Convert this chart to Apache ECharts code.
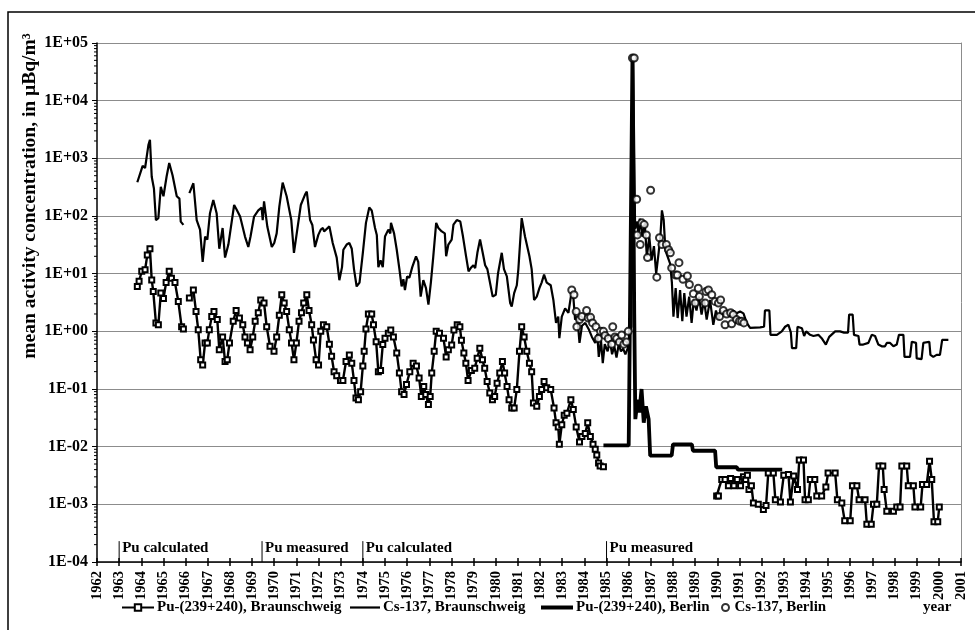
<!DOCTYPE html>
<html>
<head>
<meta charset="utf-8">
<script src="https://cdn.jsdelivr.net/npm/echarts@6/dist/echarts.min.js"></script>
<style>html,body{margin:0;padding:0;background:#fff}#c{width:975px;height:630px}</style>
</head>
<body>
<div id="c"></div>
<script>
// ---- data: [decimal year, µBq/m³] ----
const csBraunschweig = [
[1963.82,385],[1964.06,740],[1964.17,680],[1964.32,1700],[1964.39,2100],[1964.47,480],[1964.57,300],[1964.66,85],[1964.77,92],[1964.88,320],
[1965.0,220],[1965.14,480],[1965.26,830],[1965.41,510],[1965.6,220],[1965.72,200],[1965.78,80],[1965.9,70],[1966.05,'-'],
[1966.17,250],[1966.35,370],[1966.5,85],[1966.65,58],[1966.77,16],[1966.88,44],[1966.98,39],[1967.1,112],[1967.25,190],[1967.4,112],
[1967.52,27],[1967.67,62],[1967.78,19],[1967.93,32],[1968.19,155],[1968.3,130],[1968.46,98],[1968.68,44],[1968.83,29],[1968.93,44],
[1969.09,98],[1969.28,125],[1969.43,140],[1969.48,85],[1969.54,180],[1969.69,65],[1969.89,29],[1970.0,34],[1970.11,50],[1970.23,145],
[1970.38,380],[1970.56,220],[1970.77,85],[1970.89,23],[1971.04,58],[1971.2,155],[1971.39,235],[1971.47,265],[1971.62,85],[1971.72,70],
[1971.84,29],[1971.99,47],[1972.1,58],[1972.2,62],[1972.25,54],[1972.49,66],[1972.64,34],[1972.82,19],[1972.94,7.7],[1973.06,13],
[1973.12,26],[1973.27,32],[1973.39,34],[1973.5,27],[1973.6,12],[1973.72,6],[1973.85,7],[1974.0,23],[1974.14,76],[1974.29,140],
[1974.4,125],[1974.55,62],[1974.63,47],[1974.7,13],[1974.8,17],[1974.9,13],[1975.0,44],[1975.15,58],[1975.24,50],[1975.27,76],
[1975.41,50],[1975.53,26],[1975.65,12],[1975.75,6],[1975.83,8],[1975.9,5.2],[1976.0,9],[1976.1,8.5],[1976.23,13],[1976.4,20],
[1976.5,16],[1976.61,4],[1976.73,7.7],[1976.85,5.6],[1976.96,2.9],[1977.07,7],[1977.18,20],[1977.31,76],[1977.41,62],[1977.56,54],
[1977.7,50],[1977.76,20],[1977.86,32],[1978.01,39],[1978.09,71],[1978.24,85],[1978.4,80],[1978.52,44],[1978.66,20],[1978.77,11],
[1978.87,12.5],[1978.99,14],[1979.07,12.5],[1979.17,23],[1979.29,39],[1979.41,23],[1979.52,14],[1979.62,12],[1979.71,8],[1979.86,4],
[1980.0,4.3],[1980.1,10],[1980.27,23],[1980.37,12],[1980.5,9],[1980.65,3.1],[1980.72,2.7],[1980.83,4.6],[1980.95,6.3],[1981.02,12],
[1981.17,92],[1981.32,44],[1981.52,20],[1981.62,12],[1981.73,3.5],[1981.85,4],[1981.97,5.6],[1982.07,7],[1982.18,9.6],[1982.3,7],
[1982.48,6.3],[1982.6,3.5],[1982.72,1.4],[1982.82,1.8],[1982.87,0.76],[1982.98,1.8],[1983.13,2.5],[1983.28,2.1],[1983.39,4],[1983.5,4],
[1983.58,1.6],[1983.68,1.8],[1983.78,0.63],[1983.89,1.25],[1984.04,1.4],[1984.19,1.1],[1984.34,0.8],[1984.49,0.63],[1984.58,0.9],[1984.65,0.36],
[1984.75,0.7],[1984.83,0.28],[1984.92,0.6],[1985.05,0.45],[1985.15,0.7],[1985.25,0.4],[1985.35,0.55],[1985.45,0.35],[1985.55,0.6],[1985.65,0.45],
[1985.75,0.5],[1985.85,0.4],[1985.95,0.5],[1986.06,1.0],[1986.12,1.2],[1986.2,56000],[1986.29,60],[1986.39,80],[1986.44,44],[1986.5,90],
[1986.62,44],[1986.72,80],[1986.82,20],[1986.93,44],[1987.03,17],[1987.14,30],[1987.24,10],[1987.35,23],[1987.43,44],[1987.5,125],
[1987.58,85],[1987.66,25],[1987.73,27],[1987.87,15],[1987.95,7],[1988.02,1.8],[1988.12,5.6],[1988.21,1.7],[1988.32,5.2],[1988.42,1.5],
[1988.51,4.6],[1988.61,1.8],[1988.73,4],[1988.84,1.4],[1988.94,3.5],[1989.06,2.3],[1989.17,4],[1989.29,1.95],[1989.4,3.5],[1989.52,1.6],
[1989.67,3.5],[1989.82,1.3],[1989.94,2.3],[1990.05,1.6],[1990.15,2.3],[1990.27,1.95],[1990.42,2.3],[1990.57,1.8],[1990.72,2.3],[1990.87,2.05],
[1991.03,2.2],[1991.18,2.05],[1991.33,1.4],[1991.48,1.15],[1991.93,1.17],[1992.11,1.2],[1992.15,2.3],[1992.35,2.3],[1992.4,0.87],[1992.69,0.87],
[1992.91,1.0],[1993.06,1.2],[1993.21,1.3],[1993.32,0.95],[1993.37,0.51],[1993.56,0.51],[1993.62,1.2],[1993.82,1.13],[1993.92,0.83],[1994.01,1.0],
[1994.19,0.87],[1994.34,0.83],[1994.56,0.87],[1994.71,0.76],[1994.9,0.59],[1994.97,0.59],[1995.05,0.8],[1995.32,1.0],[1995.54,1.0],[1995.72,0.95],
[1995.9,0.95],[1995.95,1.95],[1996.11,1.95],[1996.17,0.87],[1996.37,0.83],[1996.42,0.59],[1996.59,0.59],[1996.82,0.63],[1996.97,0.87],[1997.12,0.83],
[1997.27,0.59],[1997.42,0.55],[1997.57,0.55],[1997.65,0.63],[1997.8,0.63],[1997.95,0.55],[1998.1,0.59],[1998.2,0.87],[1998.4,0.87],[1998.45,0.36],
[1998.7,0.36],[1998.78,0.66],[1998.97,0.63],[1999.0,0.34],[1999.22,0.33],[1999.3,0.63],[1999.57,0.66],[1999.62,0.39],[1999.75,0.36],[1999.9,0.39],
[2000.05,0.39],[2000.15,0.71],[2000.43,0.71]
];

const puBraunschweig = [
[1963.82,6.0],[1963.9,7.4],[1964.02,11],[1964.17,11.7],[1964.27,21],[1964.39,27],[1964.47,7.8],[1964.54,4.9],[1964.66,1.4],[1964.77,1.3],
[1964.88,4.6],[1965.0,3.7],[1965.12,7],[1965.26,11],[1965.36,8.3],[1965.52,7],[1965.67,3.3],[1965.82,1.2],[1965.9,1.1],[1966.05,'-'],
[1966.17,3.8],[1966.35,5.2],[1966.47,2.2],[1966.57,1.07],[1966.68,0.32],[1966.77,0.26],[1966.88,0.63],[1966.98,0.63],[1967.07,1.07],[1967.18,1.8],
[1967.28,2.2],[1967.43,1.6],[1967.52,0.48],[1967.67,0.8],[1967.78,0.3],[1967.88,0.32],[1967.98,0.63],[1968.15,1.5],[1968.28,2.3],[1968.43,1.7],
[1968.58,1.3],[1968.68,0.8],[1968.79,0.63],[1968.91,0.48],[1969.03,0.8],[1969.14,1.5],[1969.28,2.1],[1969.39,3.5],[1969.54,3.1],[1969.66,1.2],
[1969.81,0.55],[1969.99,0.45],[1970.11,0.8],[1970.23,1.9],[1970.34,4.3],[1970.45,3.1],[1970.56,2.2],[1970.68,1.07],[1970.78,0.63],[1970.89,0.32],
[1971.0,0.63],[1971.12,1.5],[1971.23,2.1],[1971.33,3.1],[1971.47,4.3],[1971.57,2.3],[1971.69,1.3],[1971.77,0.71],[1971.89,0.32],[1972.0,0.26],
[1972.1,1.0],[1972.22,1.3],[1972.37,1.2],[1972.49,0.6],[1972.59,0.37],[1972.7,0.2],[1972.82,0.17],[1972.99,0.14],[1973.1,0.14],[1973.24,0.3],
[1973.39,0.39],[1973.5,0.28],[1973.6,0.14],[1973.69,0.07],[1973.8,0.065],[1973.9,0.09],[1974.0,0.25],[1974.06,0.45],[1974.14,1.1],[1974.25,2.0],
[1974.4,2.0],[1974.48,1.3],[1974.6,0.66],[1974.7,0.2],[1974.8,0.21],[1974.9,0.59],[1975.0,0.76],[1975.15,0.93],[1975.26,1.05],[1975.38,0.8],
[1975.53,0.42],[1975.65,0.19],[1975.75,0.09],[1975.86,0.08],[1975.97,0.12],[1976.12,0.2],[1976.27,0.28],[1976.42,0.25],[1976.54,0.155],[1976.64,0.074],
[1976.75,0.11],[1976.84,0.08],[1976.96,0.054],[1977.04,0.074],[1977.11,0.19],[1977.22,0.45],[1977.31,1.0],[1977.46,0.93],[1977.64,0.76],[1977.76,0.36],
[1977.86,0.48],[1978.01,0.58],[1978.11,1.05],[1978.26,1.3],[1978.38,1.2],[1978.45,0.7],[1978.56,0.42],[1978.65,0.28],[1978.75,0.14],[1978.9,0.21],
[1979.05,0.23],[1979.16,0.34],[1979.28,0.51],[1979.4,0.32],[1979.5,0.23],[1979.61,0.135],[1979.73,0.085],[1979.85,0.065],[1979.95,0.074],[1980.06,0.126],
[1980.18,0.19],[1980.3,0.3],[1980.4,0.19],[1980.51,0.11],[1980.6,0.065],[1980.72,0.047],[1980.83,0.047],[1980.95,0.098],[1981.07,0.45],[1981.17,1.2],
[1981.28,0.8],[1981.4,0.45],[1981.52,0.28],[1981.62,0.2],[1981.7,0.057],[1981.85,0.05],[1981.97,0.074],[1982.07,0.098],[1982.18,0.135],[1982.3,0.105],
[1982.48,0.098],[1982.63,0.047],[1982.72,0.026],[1982.82,0.022],[1982.87,0.011],[1982.98,0.024],[1983.09,0.035],[1983.21,0.038],[1983.39,0.065],[1983.5,0.044],
[1983.63,0.022],[1983.78,0.012],[1983.89,0.015],[1984.04,0.017],[1984.15,0.026],[1984.27,0.015],[1984.39,0.011],[1984.49,0.009],[1984.56,0.0072],[1984.64,0.0052],
[1984.71,0.0046],[1984.86,0.0045],[1987.0,'-'],
[1989.97,0.0014],[1990.05,0.0014],[1990.2,0.0027],[1990.35,0.0027],[1990.5,0.0021],[1990.6,0.0028],[1990.75,0.0021],[1990.9,0.0027],[1991.05,0.0021],[1991.18,0.003],
[1991.28,0.0027],[1991.36,0.0032],[1991.43,0.0018],[1991.54,0.0021],[1991.63,0.00105],[1991.85,0.001],[1992.08,0.00081],[1992.2,0.00095],[1992.3,0.0035],[1992.53,0.0035],
[1992.62,0.0012],[1992.85,0.0011],[1993.0,0.0032],[1993.21,0.0033],[1993.3,0.0011],[1993.45,0.0031],[1993.62,0.0018],[1993.7,0.0059],[1993.89,0.0059],[1993.96,0.0012],
[1994.11,0.0012],[1994.2,0.0027],[1994.4,0.0027],[1994.49,0.0014],[1994.71,0.0014],[1994.9,0.002],[1995.0,0.0035],[1995.32,0.0035],[1995.42,0.0012],[1995.62,0.00105],
[1995.75,0.00052],[1996.0,0.00052],[1996.1,0.0021],[1996.3,0.0021],[1996.4,0.0012],[1996.67,0.0012],[1996.75,0.00045],[1996.95,0.00045],[1997.05,0.001],[1997.2,0.001],
[1997.3,0.0046],[1997.47,0.0046],[1997.53,0.0018],[1997.65,0.00076],[1997.95,0.00076],[1998.1,0.0009],[1998.25,0.0009],[1998.33,0.0046],[1998.55,0.0046],[1998.62,0.0021],
[1998.85,0.0021],[1998.92,0.0009],[1999.18,0.0009],[1999.26,0.0022],[1999.45,0.0022],[1999.58,0.0056],[1999.68,0.0027],[1999.78,0.0005],[1999.95,0.0005],[2000.02,0.0009]
];

const puBerlin = [
[1984.86,0.0105],[1986.0,0.0105],[1986.17,55000],[1986.25,2.0],[1986.3,0.03],[1986.4,0.065],[1986.48,0.039],[1986.58,0.1],[1986.68,0.026],[1986.78,0.05],
[1986.9,0.03],[1986.97,0.007],[1987.94,0.007],[1988.0,0.011],[1988.85,0.011],[1988.9,0.0085],[1989.9,0.0085],[1989.95,0.0044],[1990.88,0.0044],[1990.93,0.004],
[1992.93,0.004]
];

const csBerlin = [
[1983.43,5.2],[1983.53,4.3],[1983.63,2.2],[1983.66,1.2],[1983.78,1.6],[1983.89,1.8],[1984.1,2.3],[1984.17,1.7],[1984.28,1.75],[1984.37,1.4],
[1984.52,1.2],[1984.63,0.75],[1984.73,1.0],[1984.86,1.0],[1984.93,0.85],[1985.08,0.75],[1985.23,0.6],[1985.28,1.2],[1985.38,0.8],[1985.46,0.75],
[1985.58,0.65],[1985.68,0.86],[1985.78,0.6],[1985.9,0.65],[1985.98,1.0],[1986.17,55000],[1986.25,55000],[1986.36,195],[1986.39,47],[1986.52,32],
[1986.59,76],[1986.7,71],[1986.8,47],[1986.85,19],[1986.99,280],[1987.27,8.7],[1987.39,42],[1987.5,32],[1987.7,32],[1987.8,26],
[1987.88,23],[1987.94,12.6],[1988.12,9.5],[1988.2,9.5],[1988.27,15.5],[1988.45,8],[1988.65,9.1],[1988.74,6.5],[1988.92,4.5],[1989.0,3.1],
[1989.14,5.6],[1989.19,4],[1989.45,3.1],[1989.49,4.9],[1989.6,5.2],[1989.75,4.3],[1989.9,3.3],[1990.05,3.1],[1990.1,1.8],[1990.15,3.5],
[1990.27,2.3],[1990.35,1.3],[1990.42,2.0],[1990.6,2.1],[1990.65,1.35],[1990.72,1.95],[1990.87,1.6],[1991.0,1.5],[1991.1,1.5],[1991.2,1.4]
];

const noteYears = [1963, 1969.45, 1974, 1985];
const noteLabels = ['Pu calculated', 'Pu measured', 'Pu calculated', 'Pu measured'];
const seriesNames = ['Pu-(239+240), Braunschweig', 'Cs-137, Braunschweig', 'Pu-(239+240), Berlin', 'Cs-137, Berlin'];

// ---- chart ----
const FONT = '"Liberation Serif", "Times New Roman", serif';
const chart = echarts.init(document.getElementById('c'), null, {renderer: 'canvas'});

const minorTicks = [];
for (let e = -4; e < 5; e++) for (let k = 2; k <= 9; k++) minorTicks.push([1962, k * Math.pow(10, e)]);

function expLabel(v) {
  const e = Math.round(Math.log10(v));
  return '1E' + (e < 0 ? '-' : '+') + String(Math.abs(e)).padStart(2, '0');
}

const legendBase = {
  orient: 'horizontal', top: 600, itemGap: 0, padding: 0,
  textStyle: {fontFamily: FONT, fontWeight: 'bold', fontSize: 15, color: '#000', padding: [0, 0, 0, -2]}
};

const option = {
  animation: false,
  backgroundColor: '#fff',
  grid: {left: 97, right: 14, top: 43, bottom: 68, containLabel: false},
  xAxis: [{
    type: 'value', min: 1962, max: 2001, interval: 1,
    axisLine: {lineStyle: {color: '#000', width: 1.5}},
    axisTick: {length: 4, lineStyle: {color: '#000', width: 1.5}},
    axisLabel: {rotate: 90, margin: 9, fontFamily: FONT, fontWeight: 'bold', fontSize: 14.5, color: '#000',
                formatter: function (v) { return String(v); }},
    splitLine: {show: false}
  }, {
    type: 'value', min: 1962, max: 2001, interval: 1, position: 'bottom',
    axisLine: {show: false},
    axisTick: {inside: true, length: 4, lineStyle: {color: '#000', width: 1.5}},
    axisLabel: {show: false}, splitLine: {show: false}
  }],
  yAxis: [{
    type: 'log', logBase: 10, min: 1e-4, max: 1e5, interval: 1, splitNumber: 9,
    axisLine: {show: true, lineStyle: {color: '#000', width: 1.5}},
    axisTick: {show: true, length: 5, lineStyle: {color: '#000', width: 1}},
    axisLabel: {formatter: expLabel, margin: 9, fontFamily: FONT, fontWeight: 'bold', fontSize: 16, color: '#000'},
    splitLine: {show: true, lineStyle: {color: '#8c8c8c', width: 1}}
  }, {
    type: 'log', logBase: 10, min: 1e-4, max: 1e5, position: 'right',
    axisLine: {show: true, lineStyle: {color: '#8c8c8c', width: 1}},
    axisTick: {show: false}, axisLabel: {show: false}, splitLine: {show: false}
  }],
  legend: [
    Object.assign({}, legendBase, {left: 121, data: [seriesNames[0]], itemWidth: 32, itemHeight: 8}),
    Object.assign({}, legendBase, {left: 350, data: [{name: seriesNames[1], icon: 'rect'}], itemWidth: 30, itemHeight: 2.2}),
    Object.assign({}, legendBase, {left: 541, data: [{name: seriesNames[2], icon: 'rect'}], itemWidth: 32, itemHeight: 4}),
    Object.assign({}, legendBase, {left: 721, data: [seriesNames[3]], itemWidth: 12, itemHeight: 7})
  ],
  graphic: [
    {type: 'rect', shape: {x: 8, y: 12, width: 1000, height: 700}, style: {fill: 'none', stroke: '#000', lineWidth: 1.5}, silent: true},
    {type: 'text', x: 30, y: 196, rotation: Math.PI / 2,
     style: {text: 'mean activity concentration, in µBq/m³', font: 'bold 19.5px ' + FONT, fill: '#000', textAlign: 'center', textVerticalAlign: 'middle'}},
    {type: 'text', left: 923, top: 600, style: {text: 'year', font: 'bold 15px ' + FONT, fill: '#000'}}
  ],
  series: [
    {
      name: seriesNames[1], type: 'line', data: csBraunschweig, symbol: 'none', showSymbol: false, connectNulls: false,
      lineStyle: {color: '#000', width: 2.2}, itemStyle: {color: '#000'}, z: 2
    },
    {
      name: seriesNames[0], type: 'line', data: puBraunschweig, symbol: 'emptyRect', symbolSize: 5, showAllSymbol: true,
      connectNulls: false, lineStyle: {color: '#000', width: 2.4}, itemStyle: {color: '#000', borderWidth: 2}, z: 3
    },
    {
      name: seriesNames[2], type: 'line', data: puBerlin, symbol: 'none', showSymbol: false,
      lineStyle: {color: '#000', width: 3.8}, itemStyle: {color: '#000'}, z: 4
    },
    {
      name: seriesNames[3], type: 'scatter', data: csBerlin, symbol: 'emptyCircle', symbolSize: 7,
      itemStyle: {color: '#000', borderWidth: 1.2}, z: 5
    },
    {
      type: 'custom', name: 'minorTicks', data: minorTicks, clip: false, silent: true, z: 1,
      renderItem: function (params, api) {
        const p = api.coord([api.value(0), api.value(1)]);
        return {type: 'line', shape: {x1: p[0] - 3, y1: p[1], x2: p[0], y2: p[1]}, style: {stroke: '#000', lineWidth: 1}};
      }
    },
    {
      type: 'custom', name: 'notes', data: noteYears.map(function (y) { return [y, 1e-4]; }), clip: false, silent: true, z: 6,
      renderItem: function (params, api) {
        const x = api.value(0);
        const p0 = api.coord([x, 1e-4]);
        const p1 = api.coord([x, 2.3e-4]);
        return {type: 'group', children: [
          {type: 'line', shape: {x1: p0[0], y1: p0[1], x2: p1[0], y2: p1[1]}, style: {stroke: '#000', lineWidth: 1}},
          {type: 'text', x: p1[0] + 3, y: p1[1] + 7,
           style: {text: noteLabels[params.dataIndex], font: 'bold 15px ' + FONT, fill: '#000', textVerticalAlign: 'middle'}}
        ]};
      }
    }
  ]
};
chart.setOption(option);
</script>
</body>
</html>
